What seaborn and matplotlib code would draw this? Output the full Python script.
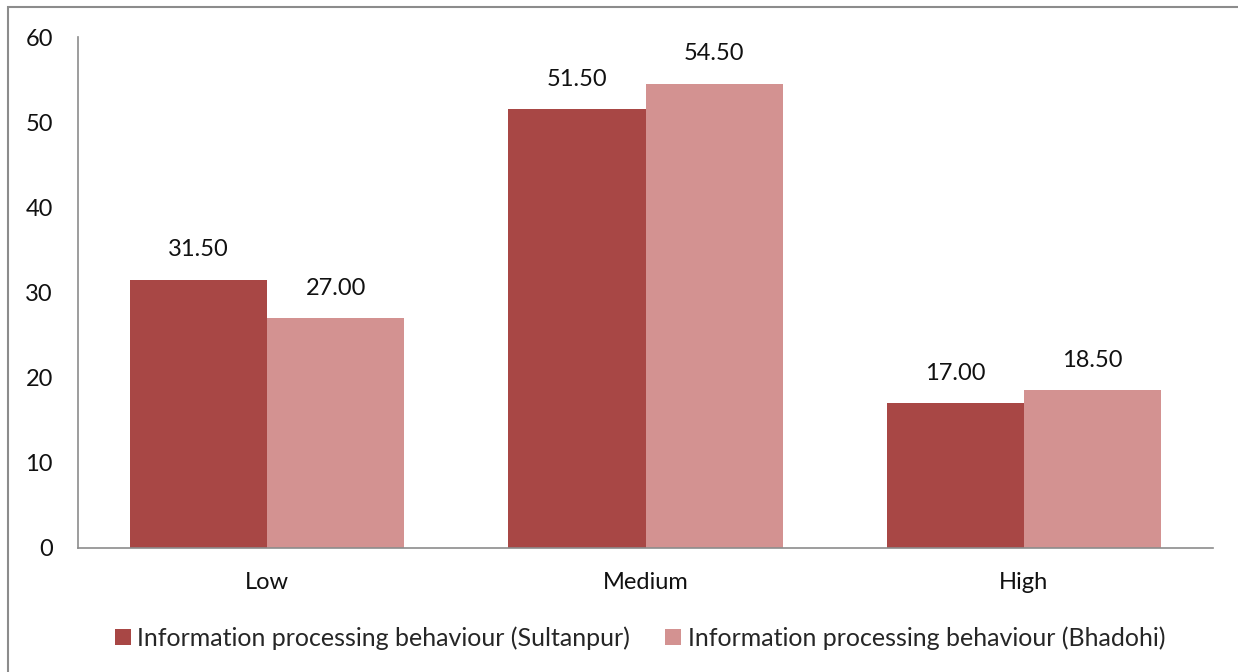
import matplotlib
matplotlib.use("Agg")
import matplotlib.pyplot as plt
import seaborn as sns
import pandas as pd
from matplotlib.patches import Rectangle

# data
categories = ["Low", "Medium", "High"]
series = ["Information processing behaviour (Sultanpur)",
          "Information processing behaviour (Bhadohi)"]
sultanpur = [31.50, 51.50, 17.00]
bhadohi = [27.00, 54.50, 18.50]
colors = ["#A84745", "#D39291"]

df = pd.DataFrame({
    "Level": categories * 2,
    "Value": sultanpur + bhadohi,
    "Series": [series[0]] * 3 + [series[1]] * 3,
})

sns.set_style("white")
plt.rcParams["font.family"] = ["Lato", "DejaVu Sans"]
FS = 17

fig = plt.figure(figsize=(12.38, 6.72), dpi=100)
ax = fig.add_axes([78 / 1238, 1 - 548 / 672, 1135 / 1238, 511 / 672])

sns.barplot(data=df, x="Level", y="Value", hue="Series", order=categories,
            hue_order=series, palette=colors, width=0.725, gap=0,
            saturation=1, ax=ax, edgecolor="none", linewidth=0)

for cont in ax.containers:
    ax.bar_label(cont, fmt="%.2f", padding=14, fontsize=FS, color="#111111")

ax.set_ylim(0, 60)
ax.set_yticks(range(0, 61, 10))
ax.set_xlabel("")
ax.set_ylabel("")
ax.tick_params(axis="both", length=0, labelsize=FS, colors="#111111")
ax.tick_params(axis="y", pad=18)
ax.tick_params(axis="x", pad=17)
for side in ["top", "right"]:
    ax.spines[side].set_visible(False)
for side in ["left", "bottom"]:
    ax.spines[side].set_color("#8c8c8c")
    ax.spines[side].set_linewidth(1.2)

handles, labels = ax.get_legend_handles_labels()
ax.legend(handles, labels, loc="center",
          bbox_to_anchor=(640 / 1238, 1 - 638 / 672),
          bbox_transform=fig.transFigure, ncol=2, frameon=False, fontsize=18,
          handlelength=0.65, handleheight=0.65, handletextpad=0.25,
          columnspacing=1.4)

# outer chart border
fig.patches.append(Rectangle((8 / 1238, -0.1), 1.2, 1 - 7 / 672 + 0.1,
                             transform=fig.transFigure, fill=False,
                             edgecolor="#8c8c8c", linewidth=1.5))

fig.savefig("out.png", dpi=100)
